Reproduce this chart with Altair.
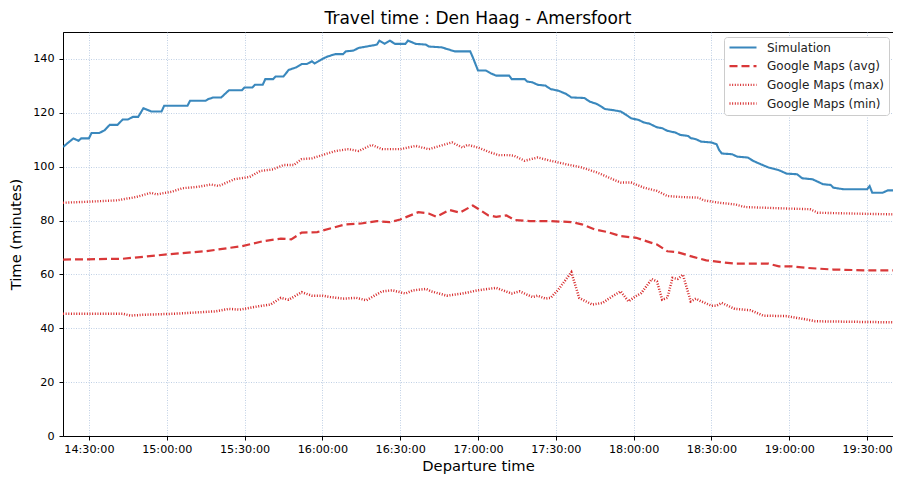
import altair as alt
import pandas as pd

# ---------------- data ----------------
series_order = ["Simulation", "Google Maps (avg)", "Google Maps (max)", "Google Maps (min)"]

sim_times = ["14:20", "14:24", "14:26", "14:27", "14:30", "14:31", "14:34", "14:36", "14:38", "14:41",
             "14:43", "14:45", "14:47", "14:49", "14:51", "14:54", "14:58", "14:59", "15:08", "15:09",
             "15:15", "15:16", "15:18", "15:21", "15:24", "15:29", "15:30", "15:33", "15:34", "15:37",
             "15:38", "15:41", "15:42", "15:45", "15:47", "15:50", "15:52", "15:54", "15:56", "15:57",
             "15:59", "16:00", "16:02", "16:05", "16:08", "16:09", "16:12", "16:14", "16:17", "16:21",
             "16:22", "16:24", "16:26", "16:28", "16:32", "16:33", "16:36", "16:40", "16:41", "16:46",
             "16:48", "16:51", "16:57", "16:58", "17:00", "17:03", "17:05", "17:07", "17:12", "17:13",
             "17:18", "17:19", "17:21", "17:23", "17:26", "17:28", "17:31", "17:34", "17:36", "17:41",
             "17:43", "17:46", "17:49", "17:52", "17:55", "17:57", "17:59", "18:02", "18:04", "18:06",
             "18:09", "18:11", "18:13", "18:16", "18:18", "18:21", "18:22", "18:24", "18:26", "18:30",
             "18:32", "18:33", "18:34", "18:38", "18:40", "18:44", "18:46", "18:49", "18:52", "18:56",
             "18:59", "19:03", "19:05", "19:09", "19:11", "19:13", "19:16", "19:17", "19:21", "19:30",
             "19:31", "19:32", "19:36", "19:38", "19:40"]
sim_values = [107.3, 110.5, 109.6, 110.5, 110.5, 112.5, 112.5, 113.5, 115.5, 115.5,
              117.5, 117.5, 118.5, 118.5, 121.7, 120.5, 120.5, 122.6, 122.6, 124.5,
              124.5, 125.1, 125.7, 125.7, 128.4, 128.4, 129.4, 129.4, 130.4, 130.4,
              132.5, 132.5, 133.5, 133.5, 135.9, 136.9, 138.1, 138.1, 139.1, 138.3,
              139.4, 140.0, 140.9, 141.8, 141.8, 142.8, 143.1, 144.1, 144.6, 145.3,
              146.8, 145.6, 146.8, 145.6, 145.6, 146.8, 145.6, 145.3, 144.6, 144.3,
              143.7, 142.8, 142.8, 140.6, 135.7, 135.7, 134.6, 133.8, 133.8, 132.5,
              132.5, 131.6, 131.3, 130.4, 130.1, 128.8, 128.2, 127.0, 125.7, 125.5,
              124.2, 123.2, 121.4, 121.0, 120.5, 119.3, 118.0, 117.3, 116.4, 116.0,
              114.6, 114.3, 113.3, 112.7, 111.8, 111.4, 110.6, 110.2, 109.3, 109.0,
              108.3, 106.1, 104.9, 104.6, 103.7, 103.4, 102.2, 100.9, 99.7, 98.7,
              97.4, 97.2, 95.7, 95.3, 94.4, 93.5, 93.2, 92.2, 91.6, 91.6,
              92.8, 90.3, 90.3, 91.2, 91.2]

avg_times = ["14:20", "14:43", "15:00", "15:15", "15:29", "15:37", "15:44", "15:48", "15:52", "15:58",
             "16:04", "16:09", "16:15", "16:21", "16:26", "16:30", "16:37", "16:41", "16:44", "16:49",
             "16:53", "16:58", "17:00", "17:04", "17:07", "17:11", "17:14", "17:20", "17:28", "17:36",
             "17:40", "17:45", "17:50", "17:55", "18:01", "18:06", "18:09", "18:13", "18:17", "18:23",
             "18:28", "18:34", "18:39", "18:52", "18:56", "19:01", "19:07", "19:17", "19:30", "19:40"]
avg_values = [65.5, 65.8, 67.4, 68.6, 70.5, 72.3, 73.3, 73.0, 75.5, 75.7,
              77.3, 78.6, 78.9, 79.8, 79.4, 80.4, 83.1, 82.6, 81.4, 83.9,
              82.9, 85.6, 84.4, 81.9, 81.4, 81.9, 80.2, 79.8, 79.8, 79.4,
              78.6, 76.7, 75.7, 74.2, 73.6, 72.0, 71.1, 68.6, 68.2, 66.5,
              65.2, 64.5, 64.0, 64.0, 63.0, 63.0, 62.4, 61.8, 61.5, 61.5]

max_times = ["14:20", "14:30", "14:41", "14:45", "14:48", "14:54", "14:56", "15:02", "15:06", "15:12",
             "15:17", "15:20", "15:26", "15:32", "15:36", "15:41", "15:45", "15:49", "15:52", "15:56",
             "16:00", "16:05", "16:10", "16:14", "16:19", "16:23", "16:30", "16:36", "16:41", "16:50",
             "16:54", "16:56", "17:00", "17:05", "17:08", "17:12", "17:14", "17:18", "17:23", "17:28",
             "17:34", "17:40", "17:46", "17:52", "17:55", "17:59", "18:04", "18:09", "18:13", "18:19",
             "18:25", "18:27", "18:33", "18:39", "18:43", "18:58", "19:08", "19:11", "19:29", "19:40"]
max_values = [86.6, 87.0, 87.5, 88.2, 88.7, 90.3, 89.7, 90.7, 92.0, 92.5,
              93.4, 92.8, 95.3, 96.2, 98.4, 99.0, 100.6, 100.6, 102.8, 103.1,
              104.3, 105.8, 106.5, 105.8, 108.1, 106.5, 106.5, 107.7, 106.5, 109.0,
              107.1, 108.1, 107.1, 105.2, 104.3, 104.3, 104.0, 102.2, 103.4, 102.2,
              100.9, 99.7, 97.8, 95.3, 94.1, 94.1, 92.2, 91.0, 89.1, 88.7,
              88.5, 87.5, 86.6, 86.0, 85.0, 84.5, 84.2, 82.9, 82.5, 82.3]

min_times = ["14:20", "14:43", "14:46", "14:51", "15:03", "15:12", "15:19", "15:24", "15:28", "15:35",
             "15:40", "15:44", "15:47", "15:52", "15:56", "16:00", "16:03", "16:08", "16:13", "16:17",
             "16:23", "16:27", "16:32", "16:35", "16:40", "16:42", "16:48", "16:54", "17:00", "17:07",
             "17:13", "17:16", "17:21", "17:23", "17:26", "17:28", "17:31", "17:36", "17:39", "17:44",
             "17:48", "17:52", "17:55", "17:58", "18:01", "18:03", "18:07", "18:09", "18:11", "18:13",
             "18:15", "18:17", "18:19", "18:22", "18:24", "18:26", "18:30", "18:32", "18:34", "18:39",
             "18:45", "18:50", "18:59", "19:07", "19:10", "19:40"]
min_values = [45.4, 45.4, 44.7, 45.0, 45.4, 45.9, 46.3, 47.2, 46.9, 48.1,
              48.8, 51.3, 50.6, 53.4, 52.1, 52.1, 51.6, 51.0, 51.3, 50.4,
              53.7, 54.1, 52.9, 54.1, 54.6, 53.7, 52.1, 52.9, 54.1, 55.0,
              52.9, 53.7, 51.6, 52.1, 51.0, 51.3, 54.4, 60.8, 51.3, 48.8,
              49.4, 52.0, 53.7, 50.0, 52.0, 53.1, 58.3, 57.4, 50.6, 51.3,
              58.7, 58.3, 59.9, 50.0, 51.0, 50.0, 48.4, 48.4, 49.4, 47.2,
              46.7, 44.7, 44.5, 43.2, 42.6, 42.2]

tick_times = ["14:30", "15:00", "15:30", "16:00", "16:30", "17:00", "17:30", "18:00", "18:30", "19:00", "19:30"]
y_ticks = [0, 20, 40, 60, 80, 100, 120, 140]

# ---------------- build table ----------------
rows = []
for name, ts, vs in [(series_order[0], sim_times, sim_values),
                     (series_order[1], avg_times, avg_values),
                     (series_order[2], max_times, max_values),
                     (series_order[3], min_times, min_values)]:
    for t, v in zip(ts, vs):
        rows.append({"series": name, "time": "2020-01-01T" + t + ":00", "value": v})
df = pd.DataFrame(rows)


def dt(hm):
    h, m = hm.split(":")
    return alt.DateTime(year=2020, month=1, date=1, hours=int(h), minutes=int(m))


blue = "#1f77b4"
red = "#d62728"
font = "DejaVu Sans"

legend = alt.Legend(
    title=None, orient="none", legendX=661, legendY=5,
    symbolType="stroke", symbolSize=729, clipHeight=13,
    labelFont=font, labelFontSize=12, labelColor="#222222",
    padding=4, strokeColor="#cccccc", fillColor="white",
    cornerRadius=3, rowPadding=5.7, labelOffset=9,
)

chart = alt.Chart(df).mark_line(clip=True).encode(
    x=alt.X("time:T",
            scale=alt.Scale(domain=[dt("14:20"), dt("19:40")]),
            axis=alt.Axis(values=[dt(t) for t in tick_times], format="%H:%M:%S",
                          title="Departure time", labelFlush=False, labelOverlap=False)),
    y=alt.Y("value:Q",
            scale=alt.Scale(domain=[0, 150], nice=False),
            axis=alt.Axis(values=y_ticks, title="Time (minutes)")),
    color=alt.Color("series:N", scale=alt.Scale(domain=series_order, range=[blue, red, red, red]),
                    legend=legend),
    strokeDash=alt.StrokeDash("series:N",
                              scale=alt.Scale(domain=series_order,
                                              range=[[1, 0], [8, 4], [1, 1.65], [1, 1.65]]),
                              legend=legend),
    strokeWidth=alt.StrokeWidth("series:N",
                                scale=alt.Scale(domain=series_order, range=[2.1, 2.5, 0.9, 0.9]),
                                legend=legend),
    opacity=alt.Opacity("series:N",
                        scale=alt.Scale(domain=series_order, range=[0.88, 1, 0.55, 0.55]),
                        legend=legend),
).properties(
    width=830, height=404,
    title=alt.TitleParams("Travel time : Den Haag - Amersfoort", font=font, fontSize=17,
                          fontWeight="normal", color="black", offset=4),
    autosize=alt.AutoSizeParams(type="none"),
    padding={"left": 55, "top": 24, "right": 0, "bottom": 38},
).configure_view(
    stroke="black", strokeWidth=1
).configure_axis(
    grid=True, gridColor="#b0c4de", gridDash=[1, 1.5], gridWidth=0.8,
    domainColor="black", tickColor="black", tickSize=4,
    labelFont=font, labelFontSize=11.2, labelColor="black",
    titleFont=font, titleFontSize=14.7, titleFontWeight="normal", titleColor="black",
).configure_axisY(titlePadding=9, labelPadding=5).configure_axisX(titlePadding=4, labelPadding=3)

chart.save("out.html", embed_options={"renderer": "svg", "actions": False})
